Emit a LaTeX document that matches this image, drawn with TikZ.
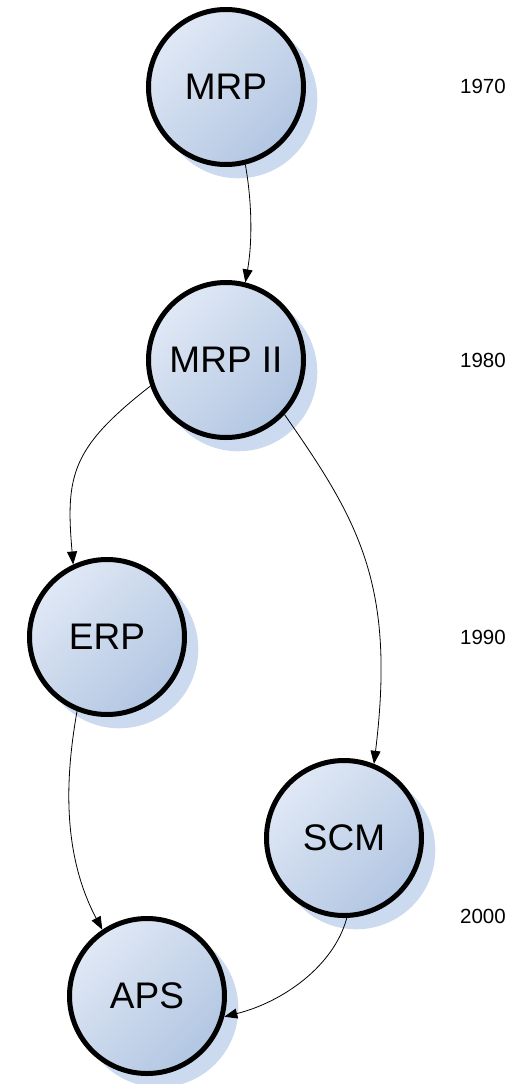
\documentclass[tikz,border=0pt]{standalone}
\usepackage{fontspec}
\setmainfont{Liberation Sans}
\usetikzlibrary{arrows.meta,shadows}
\definecolor{fillA}{RGB}{224,232,245}
\definecolor{fillB}{RGB}{178,198,226}
\definecolor{shadowc}{RGB}{204,218,240}
\tikzset{
  phase/.style={circle, draw=black, line width=5pt, minimum size=155pt, inner sep=0pt,
    top color=fillA, bottom color=fillB, shading angle=45,
    font=\fontsize{37}{40}\selectfont,
    drop shadow={shadow xshift=12pt, shadow yshift=-12pt, fill=shadowc, opacity=1, shadow scale=1.02}},
  year/.style={font=\fontsize{20.5}{24}\selectfont, inner sep=0pt},
  conn/.style={line width=0.8pt, -{Triangle[length=13pt,width=10pt]}},
}
\begin{document}
\begin{tikzpicture}[x=1pt,y=-1pt]
\useasboundingbox (0,0) rectangle (516,1084);
\node[phase] (mrp)   at (226,87)  {MRP};
\node[phase] (mrpii) at (226,360) {MRP II};
\node[phase] (erp)   at (107,637) {ERP};
\node[phase] (scm)   at (344,838) {SCM};
\node[phase] (aps)   at (147,996) {APS};
\node[year] (y70) at (483,86)  {1970};
\node[year] (y80) at (483,360) {1980};
\node[year] (y90) at (483,637) {1990};
\node[year] (y00) at (483,916) {2000};
\draw[conn] (mrp.-76.6) .. controls +(-80:40pt) and +(80:40pt) .. (mrpii.76);
\draw[conn] (mrpii.199.6) .. controls +(218:100pt) and +(95:90pt) .. (erp.115);
\draw[conn] (mrpii.-43) .. controls +(-55:130pt) and +(83:180pt) .. (scm.68.6);
\draw[conn] (erp.-112.8) .. controls +(-100:60pt) and +(118:90pt) .. (aps.124.6);
\draw[conn] (scm.-88) .. controls +(-105:50pt) and +(14:60pt) .. (aps.-15.4);
\end{tikzpicture}
\end{document}
